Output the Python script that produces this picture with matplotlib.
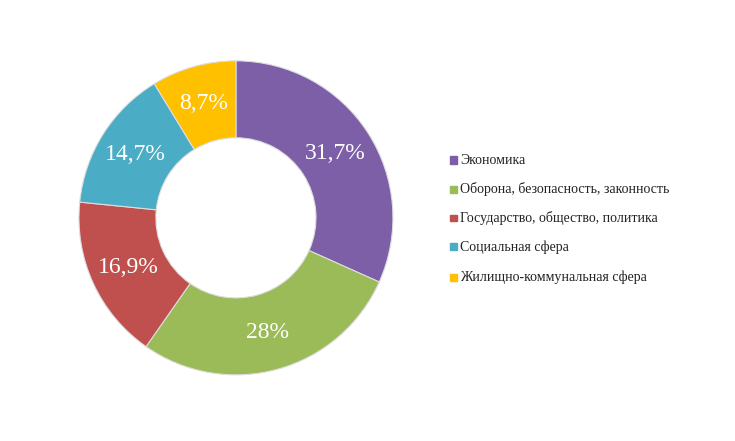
import matplotlib
matplotlib.use('Agg')
import matplotlib.pyplot as plt
import numpy as np

categories = ['Экономика', 'Оборона, безопасность, законность',
              'Государство, общество, политика', 'Социальная сфера',
              'Жилищно-коммунальная сфера']
values = [31.7, 28.0, 16.9, 14.7, 8.7]
labels = ['31,7%', '28%', '16,9%', '14,7%', '8,7%']
colors = ['#7d5fa8', '#9bbb59', '#c0504d', '#4bacc6', '#ffc000']

fig = plt.figure(figsize=(7.35, 4.41), dpi=100)
ax = fig.add_axes([0.321 - 0.2136, 0.506 - 0.356, 0.4272, 0.712])
wedges, _ = ax.pie(values, colors=colors, startangle=90, counterclock=False,
                   radius=1.0, wedgeprops=dict(width=0.49, edgecolor='#dddddd', linewidth=0.8))
ang = 90.0
for v, lab in zip(values, labels):
    span = v / sum(values) * 360
    mid = np.deg2rad(ang - span / 2)
    ang -= span
    ax.text(0.755 * np.cos(mid), 0.755 * np.sin(mid), lab, ha='center', va='center',
            color='white', fontsize=17, family='Liberation Serif')
ax.set_xlim(-1, 1)
ax.set_ylim(-1, 1)
ax.set_aspect('equal')
ax.axis('off')

ys = [160, 189, 218, 247, 277]
for y, c, name in zip(ys, colors, categories):
    fy = 1 - y / 441
    fig.patches.append(plt.Rectangle((450 / 735, fy - 3.5 / 441), 7 / 735, 7 / 441,
                                     transform=fig.transFigure, color=c, figure=fig))
    fig.text(460 / 735, fy, name, va='center', ha='left', fontsize=10,
             family='Liberation Serif', color='#222222')

fig.savefig('out.png', dpi=100)
